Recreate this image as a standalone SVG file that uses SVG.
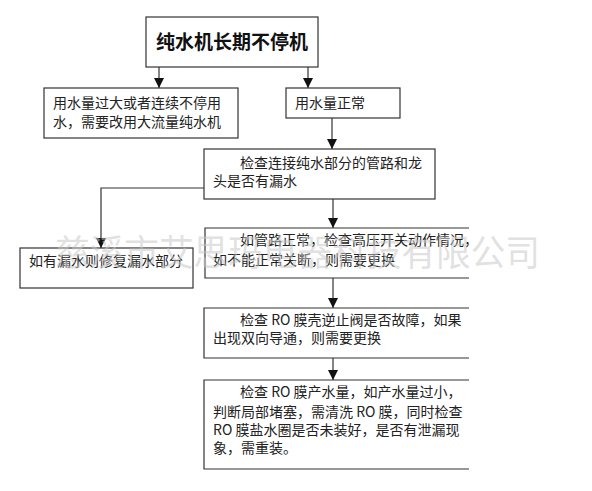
<svg xmlns="http://www.w3.org/2000/svg" width="592" height="491" viewBox="0 0 592 491">
<style>
.box{fill:#fff;stroke:#333;stroke-width:1.2}
.open{fill:none;stroke:#333;stroke-width:1.2}
.t{font-family:"Noto Sans CJK SC","Noto Sans",sans-serif;font-size:14px;fill:#222}
.title{font-family:"Noto Sans CJK SC","Noto Sans",sans-serif;font-size:19px;font-weight:bold;fill:#111}
.wm{font-family:"Noto Sans CJK SC",sans-serif;font-size:36px;fill:#c8c8c8;fill-opacity:0.55}
.c{fill:none;stroke:#333;stroke-width:1.2}
</style>
<defs>
<marker id="ah" markerUnits="userSpaceOnUse" markerWidth="10" markerHeight="10" refX="10" refY="5" orient="auto">
<path d="M0,0 L10,5 L0,10 z" fill="#111"/>
</marker>
</defs>
<rect width="592" height="491" fill="#fff"/>
<g id="connectors">
<path class="c" d="M159,67 V88" marker-end="url(#ah)"/>
<path class="c" d="M308,67 V88" marker-end="url(#ah)"/>
<path class="c" d="M332,118 V149" marker-end="url(#ah)"/>
<path class="c" d="M204,188 H101 V248" marker-end="url(#ah)"/>
<path class="c" d="M333,199 V228" marker-end="url(#ah)"/>
<path class="c" d="M333,278 V308" marker-end="url(#ah)"/>
<path class="c" d="M333,358 V380" marker-end="url(#ah)"/>
</g>
<g id="n_top">
<rect class="box" x="146" y="17" width="172" height="50"/>
<text class="title" x="232" y="49" text-anchor="middle">纯水机长期不停机</text>
</g>
<g id="n_big">
<rect class="box" x="44" y="88" width="194" height="50"/>
<text class="t" x="53" y="108">用水量过大或者连续不停用</text>
<text class="t" x="53" y="127">水，需要改用大流量纯水机</text>
</g>
<g id="n_normal">
<rect class="box" x="286" y="88" width="114" height="30"/>
<text class="t" x="295" y="108">用水量正常</text>
</g>
<g id="n_check">
<rect class="box" x="204" y="149" width="231" height="50"/>
<text class="t" x="240" y="168">检查连接纯水部分的管路和龙</text>
<text class="t" x="213" y="186">头是否有漏水</text>
</g>
<g id="n_repair">
<rect class="box" x="20" y="248" width="173" height="40"/>
<text class="t" x="29" y="266">如有漏水则修复漏水部分</text>
</g>
<g id="n_switch">
<path class="open" d="M469,228 H205 V278 H469"/>
<text class="t" x="240" y="245">如管路正常，检查高压开关动作情况，</text>
<text class="t" x="213" y="265">如不能正常关断，则需要更换</text>
</g>
<g id="n_valve">
<path class="open" d="M469,308 H204 V358 H469"/>
<text class="t" x="240" y="325">检查 RO 膜壳逆止阀是否故障，如果</text>
<text class="t" x="213" y="343">出现双向导通，则需要更换</text>
</g>
<g id="n_membrane">
<path class="open" d="M469,380 H204 V469 H469"/>
<text class="t" x="240" y="397">检查 RO 膜产水量，如产水量过小，</text>
<text class="t" x="213" y="417">判断局部堵塞，需清洗 RO 膜，同时检查</text>
<text class="t" x="213" y="435">RO 膜盐水圈是否未装好，是否有泄漏现</text>
<text class="t" x="213" y="453">象，需重装。</text>
</g>
<text class="wm" x="55" y="266" textLength="485" lengthAdjust="spacingAndGlyphs">慈溪市艾思玛电器科技有限公司</text>
</svg>
